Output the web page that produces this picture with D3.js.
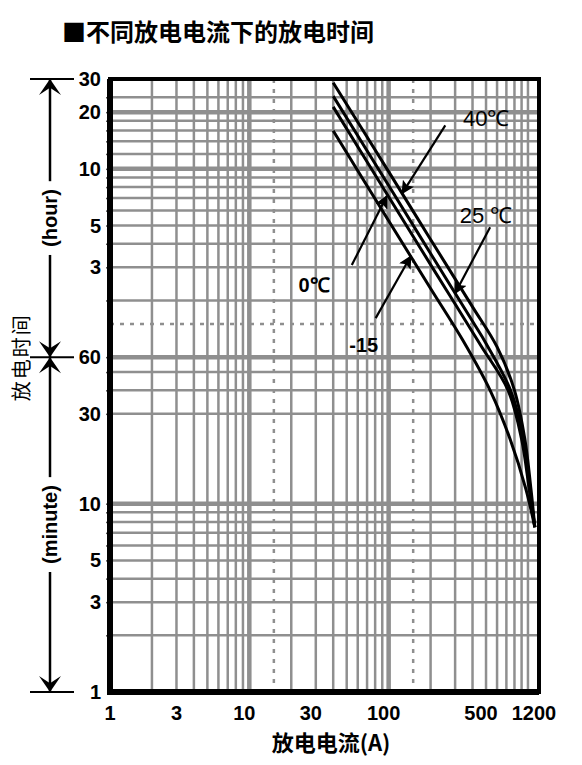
<html>
  <head>
    <meta charset="utf-8">
    <script src="https://d3js.org/d3.v7.min.js"></script>
    <style>
      body { margin: 0; background: #fff; }
      text { font-family: "Liberation Sans", Arial, sans-serif; }
      .cjk { font-family: "Noto Sans CJK SC", sans-serif; }
    </style>
  </head>

  <body>
    <div id="vis"></div>
  </body>

  <script>
    // current (A) and discharge time (minutes)
    var series = ["40℃", "25℃", "0℃", "-15"]
    var current40 = [40, 100, 200, 400, 600, 800, 950, 1050, 1120]
    var time40 = [1720, 580, 253, 111, 68, 40, 22, 12, 7.5]
    var current25 = [40, 100, 200, 400, 500, 750, 930, 1030, 1120]
    var time25 = [1460, 489, 213, 93, 71, 40, 22, 12, 7.5]
    var current0 = [40, 100, 200, 300, 460, 720, 900, 1020, 1120]
    var time0 = [1280, 427, 186, 115, 69, 40, 22, 12, 7.5]
    var currentM15 = [40, 100, 200, 340, 535, 745, 965, 1120]
    var timeM15 = [955, 318, 139, 74, 40, 22, 12, 7.5]

    // grid
    var xGrid = [2, 3, 4, 5, 6, 7, 8, 9, 20, 30, 40, 50, 60, 70, 80, 90, 200, 300, 400, 500, 600, 700, 800, 900, 1000]
    var xGridMajor = [10, 100]
    var xDotted = [15, 150]
    var yGrid = [2, 3, 4, 5, 6, 7, 8, 9, 30, 40, 50, 120, 180, 240, 300, 360, 420, 480, 540, 720, 840, 960, 1080, 1440]
    var yGridMajor = [10, 60, 600, 1200]
    var yDotted = [90]

    // tick labels
    var xTickValues = [1, 3, 10, 30, 100, 500, 1200]
    var xTickLabels = ["1", "3", "10", "30", "100", "500", "1200"]
    var yTickValues = [1, 3, 5, 10, 30, 60, 180, 300, 600, 1200, 1800]
    var yTickLabels = ["1", "3", "5", "10", "30", "60", "3", "5", "10", "20", "30"]

    // annotation arrows: [tipA, tipT, tailA, tailT, textA, textT]
    var notes = [
      [125, 445, 255, 1022, 501, 1114],
      [300, 131, 535, 294, 501, 340],
      [97, 430, 54.4, 185, 29.1, 145],
      [144, 206, 80.7, 96.7, 66.3, 69.5]
    ]
    var noteText = ["40℃", "25 ℃", "0℃", "-15"]
    var noteWeight = ["normal", "normal", "bold", "bold"]

    var curves = [
      d3.zip(current40, time40),
      d3.zip(current25, time25),
      d3.zip(current0, time0),
      d3.zip(currentM15, timeM15)
    ]

    var width = 582
    var height = 765
    var plot = {left: 110, right: 539, top: 79, bottom: 692}

    var svg = d3.select("#vis")
    .append("svg")
    .attr("width", width)
    .attr("height", height)

    var defs = svg.append("defs")
    defs.append("marker")
    .attr("id", "head")
    .attr("viewBox", "0 0 10 10")
    .attr("refX", 9)
    .attr("refY", 5)
    .attr("markerWidth", 6)
    .attr("markerHeight", 6)
    .attr("markerUnits", "strokeWidth")
    .attr("orient", "auto")
    .append("path")
    .attr("d", "M0,0 L10,5 L0,10 L2,5 z")
    .attr("fill", "#000")

    var x = d3.scaleLog().domain([1, 1200]).range([plot.left, plot.right])
    var y = d3.scaleLog().domain([1, 1800]).range([plot.bottom, plot.top])

    // title
    svg.append("text")
    .attr("class", "cjk")
    .attr("x", 62)
    .attr("y", 41)
    .style("font-size", "24px")
    .style("font-weight", "bold")
    .text("■不同放电电流下的放电时间")

    var grid = svg.append("g")
    var gridColor = "#8f8f8f"

    grid.selectAll(".vx")
    .data(xGrid)
    .enter()
    .append("line")
    .attr("x1", function(d) { return x(d) })
    .attr("x2", function(d) { return x(d) })
    .attr("y1", plot.top)
    .attr("y2", plot.bottom)
    .attr("stroke", gridColor)
    .attr("stroke-width", 2.5)

    grid.selectAll(".vxm")
    .data(xGridMajor)
    .enter()
    .append("line")
    .attr("x1", function(d) { return x(d) })
    .attr("x2", function(d) { return x(d) })
    .attr("y1", plot.top)
    .attr("y2", plot.bottom)
    .attr("stroke", gridColor)
    .attr("stroke-width", 4.5)

    grid.selectAll(".hy")
    .data(yGrid)
    .enter()
    .append("line")
    .attr("x1", plot.left)
    .attr("x2", plot.right)
    .attr("y1", function(d) { return y(d) })
    .attr("y2", function(d) { return y(d) })
    .attr("stroke", gridColor)
    .attr("stroke-width", 2.5)

    grid.selectAll(".hym")
    .data(yGridMajor)
    .enter()
    .append("line")
    .attr("x1", plot.left)
    .attr("x2", plot.right)
    .attr("y1", function(d) { return y(d) })
    .attr("y2", function(d) { return y(d) })
    .attr("stroke", gridColor)
    .attr("stroke-width", 4.5)

    grid.selectAll(".dx")
    .data(xDotted)
    .enter()
    .append("line")
    .attr("x1", function(d) { return x(d) })
    .attr("x2", function(d) { return x(d) })
    .attr("y1", plot.top)
    .attr("y2", plot.bottom)
    .attr("stroke", gridColor)
    .attr("stroke-width", 2.5)
    .attr("stroke-dasharray", "4,6")

    grid.selectAll(".dy")
    .data(yDotted)
    .enter()
    .append("line")
    .attr("x1", plot.left)
    .attr("x2", plot.right)
    .attr("y1", function(d) { return y(d) })
    .attr("y2", function(d) { return y(d) })
    .attr("stroke", gridColor)
    .attr("stroke-width", 2.5)
    .attr("stroke-dasharray", "4,6")

    // small ticks outside left edge
    svg.append("g")
    .attr("transform", "translate(" + plot.left + ",0)")
    .call(d3.axisLeft(y).tickValues(yGrid.concat(yGridMajor)).tickSize(4).tickFormat(""))
    .call(function(g) { g.select(".domain").remove() })
    .selectAll("line").attr("stroke", "#555").attr("stroke-width", 1.5)

    // curves
    var line = d3.line()
    .x(function(d) { return x(d[0]) })
    .y(function(d) { return y(d[1]) })
    .curve(d3.curveCatmullRom.alpha(0.5))

    svg.selectAll(".curve")
    .data(curves)
    .enter()
    .append("path")
    .attr("d", line)
    .attr("fill", "none")
    .attr("stroke", "#000")
    .attr("stroke-width", 3)

    // frame
    svg.append("rect")
    .attr("x", plot.left)
    .attr("y", plot.top)
    .attr("width", plot.right - plot.left)
    .attr("height", plot.bottom - plot.top)
    .attr("fill", "none")
    .attr("stroke", "#000")
    .attr("stroke-width", 4)
    svg.append("path")
    .attr("d", "M" + plot.left + "," + plot.top + "V" + plot.bottom + "H" + plot.right)
    .attr("fill", "none")
    .attr("stroke", "#000")
    .attr("stroke-width", 6)

    // annotations
    notes.forEach(function(n, i) {
      svg.append("line")
      .attr("x1", x(n[2]))
      .attr("y1", y(n[3]))
      .attr("x2", x(n[0]))
      .attr("y2", y(n[1]))
      .attr("stroke", "#000")
      .attr("stroke-width", 2.2)
      .attr("marker-end", "url(#head)")
      svg.append("text")
      .attr("x", x(n[4]))
      .attr("y", y(n[5]))
      .attr("dy", "0.35em")
      .attr("text-anchor", "middle")
      .style("font-size", noteWeight[i] == "bold" ? "20px" : "22px")
      .style("font-weight", noteWeight[i])
      .text(noteText[i])
    })

    // x tick labels
    svg.selectAll(".xl")
    .data(xTickValues)
    .enter()
    .append("text")
    .attr("x", function(d) { return x(d) - (d >= 10 ? 5 : 0) })
    .attr("y", 720)
    .attr("text-anchor", "middle")
    .style("font-size", "20px")
    .style("font-weight", "bold")
    .text(function(d, i) { return xTickLabels[i] })

    // y tick labels
    svg.selectAll(".yl")
    .data(yTickValues)
    .enter()
    .append("text")
    .attr("x", 101)
    .attr("y", function(d) { return y(d) })
    .attr("dy", "0.35em")
    .attr("text-anchor", "end")
    .style("font-size", "20px")
    .style("font-weight", "bold")
    .text(function(d, i) { return yTickLabels[i] })

    // x title
    svg.append("text")
    .attr("class", "cjk")
    .attr("x", 331)
    .attr("y", 751)
    .attr("text-anchor", "middle")
    .style("font-size", "22px")
    .style("font-weight", "bold")
    .text("放电电流(A)")

    // y title
    svg.append("text")
    .attr("class", "cjk")
    .attr("transform", "translate(29," + y(60) + ") rotate(-90)")
    .attr("text-anchor", "middle")
    .style("font-size", "20px")
    .style("letter-spacing", "2px")
    .text("放电时间")

    // unit brackets (hour / minute)
    var bx = 50
    function arrowHead(tipY, dir) {
      // dir -1 points up, 1 points down
      var h = 16, w = 11
      svg.append("path")
      .attr("d", "M" + bx + "," + tipY +
        "L" + (bx - w) + "," + (tipY - dir * h) +
        "L" + bx + "," + (tipY - dir * h * 0.55) +
        "L" + (bx + w) + "," + (tipY - dir * h) + "Z")
      .attr("fill", "#000")
    }
    function bracket(fromT, toT, label) {
      var y1 = y(fromT), y2 = y(toT)
      var mid = (y1 + y2) / 2
      var t = svg.append("text")
      .attr("transform", "translate(" + (bx + 7) + "," + mid + ") rotate(-90)")
      .attr("text-anchor", "middle")
      .style("font-size", "20px")
      .style("font-weight", "bold")
      .text(label)
      var half = t.node().getComputedTextLength() / 2 + 8
      svg.append("line").attr("x1", bx).attr("x2", bx)
      .attr("y1", y2).attr("y2", mid - half)
      .attr("stroke", "#000").attr("stroke-width", 2.5)
      svg.append("line").attr("x1", bx).attr("x2", bx)
      .attr("y1", mid + half).attr("y2", y1)
      .attr("stroke", "#000").attr("stroke-width", 2.5)
      arrowHead(y2, -1)
      arrowHead(y1, 1)
    }
    bracket(60, 1800, "(hour)")
    bracket(1, 60, "(minute)")
    ;[1800, 60, 1].forEach(function(v) {
      svg.append("line")
      .attr("x1", 30)
      .attr("x2", 74)
      .attr("y1", y(v))
      .attr("y2", y(v))
      .attr("stroke", "#000")
      .attr("stroke-width", 2)
    })
  </script>
</html>
